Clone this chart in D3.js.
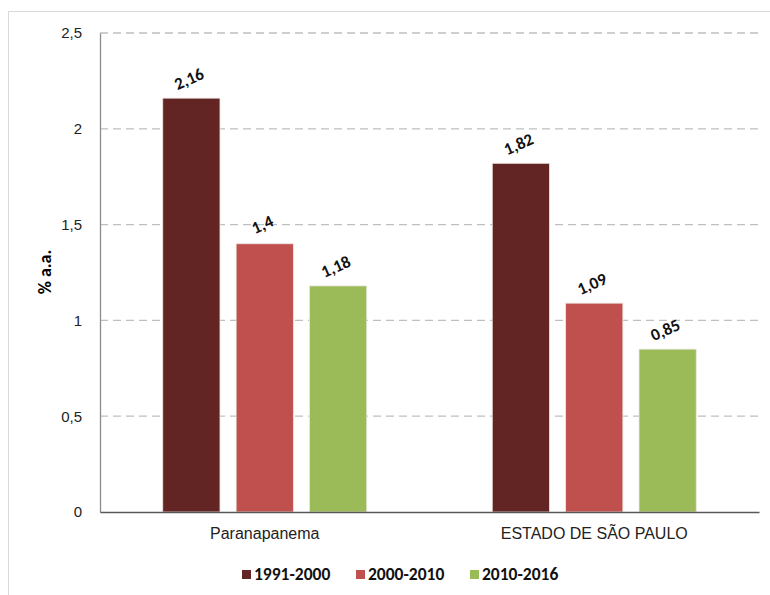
<!DOCTYPE html>
<html lang="pt">
<head>
    <meta charset="UTF-8">
    <title>% a.a.</title>
    <script src="https://d3js.org/d3.v7.min.js"></script>
    <style>
        body { margin: 0; background: #fff; }
        svg { display: block; font-family: Carlito, Lato, "Open Sans", sans-serif; }
        .grid line { stroke: #bfbfbf; stroke-width: 1.3px; stroke-dasharray: 8 5; }
        .tick text { font-size: 15px; fill: #222; }
        .vlabel { font-size: 17px; font-weight: bold; fill: #111; }
        .legend text { font-size: 17.5px; font-weight: bold; fill: #111; }
    </style>
</head>
<body>
<svg id="chart" width="770" height="595"></svg>
<script>
    // data
    const categories = ['Paranapanema', 'ESTADO DE SÃO PAULO'];
    const periods = ['1991-2000', '2000-2010', '2010-2016'];
    const values1991 = [2.16, 1.82];
    const values2000 = [1.4, 1.09];
    const values2010 = [1.18, 0.85];
    const yTicks = [0, 0.5, 1, 1.5, 2, 2.5];
    const colors = ['#632523', '#c0504d', '#9bbb59'];

    const series = [values1991, values2000, values2010];
    const fmt = v => String(v).replace('.', ',');

    const svg = d3.select('#chart');
    const margin = {left: 100, right: 11, top: 33, bottom: 83};
    const width = 770 - margin.left - margin.right;
    const height = 595 - margin.top - margin.bottom;

    // outer frame (only left and top visible)
    svg.append('path')
        .attr('d', 'M8.5,600 V11.5 H780')
        .attr('fill', 'none')
        .attr('stroke', '#d9d9d9')
        .attr('stroke-width', 1);

    const g = svg.append('g').attr('transform', `translate(${margin.left},${margin.top})`);

    const x0 = d3.scaleBand().domain(categories).range([0, width]);
    const x1 = d3.scaleBand().domain(periods).range([0, 204]).paddingInner(0.22).paddingOuter(0);
    const y = d3.scaleLinear().domain([0, 2.5]).range([height, 0]);

    // grid
    g.append('g').attr('class', 'grid')
        .selectAll('line')
        .data(yTicks.filter(d => d > 0))
        .enter().append('line')
        .attr('x1', 0).attr('x2', width)
        .attr('y1', d => y(d)).attr('y2', d => y(d));

    // y axis
    const yAxis = g.append('g')
        .call(d3.axisLeft(y).tickValues(yTicks).tickFormat(fmt).tickSize(0).tickPadding(18));
    yAxis.select('.domain').attr('stroke', '#8c8c8c').attr('stroke-width', 1.3);

    // bars
    const groups = g.selectAll('.cat')
        .data(categories)
        .enter().append('g')
        .attr('class', 'cat')
        .attr('transform', c => `translate(${x0(c) + x0.bandwidth() / 2 - 102},0)`);

    groups.each(function (c, ci) {
        const grp = d3.select(this);
        periods.forEach((p, si) => {
            const v = series[si][ci];
            grp.append('rect')
                .attr('x', x1(p))
                .attr('y', y(v))
                .attr('width', x1.bandwidth())
                .attr('height', height - y(v))
                .attr('fill', colors[si])
                .attr('stroke', '#efe6e0')
                .attr('stroke-width', 0.8);
            const cx = x1(p) + x1.bandwidth() / 2;
            grp.append('text')
                .attr('class', 'vlabel')
                .attr('text-anchor', 'middle')
                .attr('transform', `translate(${cx},${y(v) - 14}) rotate(-24)`)
                .text(fmt(v));
        });
    });

    // x axis
    const xAxis = g.append('g')
        .attr('transform', `translate(0,${height})`)
        .call(d3.axisBottom(x0).tickSize(0).tickPadding(16));
    xAxis.select('.domain').attr('stroke', '#595959').attr('stroke-width', 1.5);
    xAxis.selectAll('.tick text').style('font-size', '16px');

    // y title
    svg.append('text')
        .attr('transform', 'translate(51,272) rotate(-90)')
        .attr('text-anchor', 'middle')
        .style('font-size', '18px')
        .style('font-weight', 'bold')
        .text('% a.a.');

    // legend
    const legendX = [242, 356, 470];
    const legend = svg.append('g').attr('class', 'legend');
    periods.forEach((p, i) => {
        const lg = legend.append('g').attr('transform', `translate(${legendX[i]},570)`);
        lg.append('rect').attr('x', 0).attr('y', 0).attr('width', 9).attr('height', 9).attr('fill', colors[i]);
        lg.append('text').attr('x', 12).attr('y', 10).text(p);
    });
</script>
</body>
</html>
